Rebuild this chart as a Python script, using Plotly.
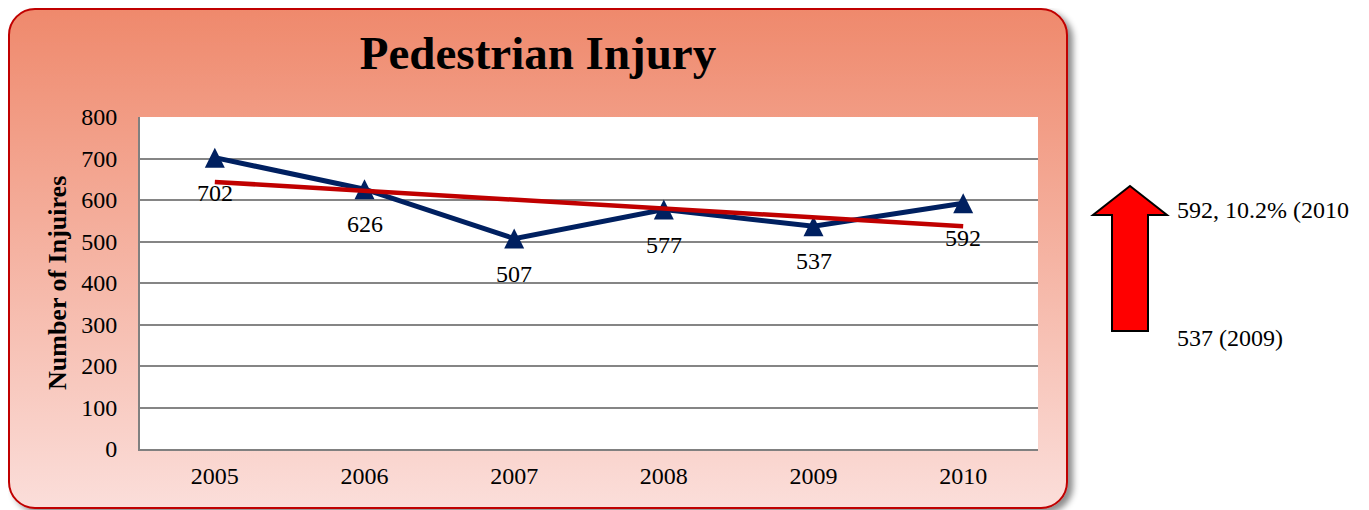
import base64
import numpy as np
import plotly.graph_objects as go

# ---------------- data ----------------
years = ["2005", "2006", "2007", "2008", "2009", "2010"]
injuries = [702, 626, 507, 577, 537, 592]
y_tick_vals = [0, 100, 200, 300, 400, 500, 600, 700, 800]
chart_title = "Pedestrian Injury"
y_axis_title = "Number of Injuires"
note_top = "592, 10.2% (2010"
note_bottom = "537 (2009)"

# ---------------- geometry (figure pixels; page body adds 8px) ----------------
W, H = 1369, 510
L, R, T, B = 132, 1030, 109, 441
PW, PH = R - L, B - T


def px(xp):
    return (xp - L) / PW


def py(yp):
    return (B - yp) / PH


# linear trend line (least squares on the data)
idx = np.arange(len(injuries))
slope, intercept = np.polyfit(idx, injuries, 1)
trend = slope * idx + intercept

# background card as svg image (gradient, border, shadow, white plot area)
svg = f"""<svg xmlns="http://www.w3.org/2000/svg" width="{W}" height="{H}" viewBox="0 0 {W} {H}" preserveAspectRatio="none">
<defs>
<linearGradient id="g" x1="0" y1="0" x2="0" y2="1">
<stop offset="0" stop-color="#EF896C"/>
<stop offset="1" stop-color="#FBDEDA"/>
</linearGradient>
<filter id="s" x="-5%" y="-5%" width="115%" height="125%">
<feDropShadow dx="5" dy="4" stdDeviation="3" flood-color="#000000" flood-opacity="0.45"/>
</filter>
</defs>
<rect x="1" y="1" width="1058" height="499" rx="26" ry="26" fill="url(#g)" stroke="#C00000" stroke-width="2" filter="url(#s)"/>
<rect x="{L}" y="{T}" width="{PW}" height="{PH}" fill="#FFFFFF"/>
</svg>"""
svg_uri = "data:image/svg+xml;base64," + base64.b64encode(svg.encode()).decode()

fig = go.Figure()

fig.add_trace(go.Scatter(
    x=years, y=injuries, mode="lines+markers",
    line=dict(color="#002060", width=5, backoff=0),
    marker=dict(symbol="arrow-down", angle=180, size=20, standoff=10, color="#002060"),
    showlegend=False, hoverinfo="skip",
))
fig.add_trace(go.Scatter(
    x=years, y=trend, mode="lines",
    line=dict(color="#C00000", width=4.5),
    showlegend=False, hoverinfo="skip",
))

serif = "Liberation Serif"

annotations = []
for i, v in enumerate(injuries):
    annotations.append(dict(x=i, y=v, xref="x", yref="y", text=str(v), showarrow=False,
                            yshift=-35, font=dict(family=serif, size=24, color="black")))

annotations.append(dict(x=0, y=0.5, xref="paper", yref="paper", text=f"<b>{y_axis_title}</b>",
                        textangle=-90, showarrow=False, xshift=-(L - 49), xanchor="center",
                        yanchor="middle", font=dict(family=serif, size=26, color="black")))
annotations.append(dict(x=px(1167), y=py(202), xref="paper", yref="paper", text=note_top,
                        showarrow=False, xanchor="left", yanchor="middle",
                        font=dict(family=serif, size=24, color="black")))
annotations.append(dict(x=px(1167), y=py(330), xref="paper", yref="paper", text=note_bottom,
                        showarrow=False, xanchor="left", yanchor="middle",
                        font=dict(family=serif, size=24, color="black")))

# red up arrow
arrow_pts = [(1122, 178), (1159, 207), (1140, 207), (1140, 323), (1104, 323), (1104, 207), (1085, 207)]
path = "M " + " L ".join(f"{px(a):.5f},{py(b):.5f}" for a, b in arrow_pts) + " Z"
shapes = [dict(type="path", xref="paper", yref="paper", path=path,
               fillcolor="#FF0000", line=dict(color="black", width=2))]

fig.update_layout(
    width=W, height=H,
    margin=dict(l=L, r=W - R, t=T, b=H - B, autoexpand=False),
    paper_bgcolor="white", plot_bgcolor="rgba(0,0,0,0)",
    title=dict(text=f"<b>{chart_title}</b>", x=530 / W, y=1 - 45 / H, xanchor="center",
               yanchor="middle", xref="container", yref="container",
               font=dict(family=serif, size=47, color="black")),
    images=[dict(source=svg_uri, xref="paper", yref="paper", x=-L / PW, y=B / PH,
                 sizex=W / PW, sizey=H / PH, xanchor="left", yanchor="top",
                 sizing="stretch", layer="below")],
    annotations=annotations,
    shapes=shapes,
    xaxis=dict(type="category", range=[-0.5, len(years) - 0.5], showgrid=False,
               showline=True, linecolor="#808080", linewidth=2, ticks="",
               tickfont=dict(family=serif, size=24, color="black"), ticklabelstandoff=4,
               fixedrange=True),
    yaxis=dict(range=[0, 800], tickvals=y_tick_vals, showgrid=True, gridcolor="#858585",
               gridwidth=1.5, zeroline=False, showline=True, linecolor="#808080", linewidth=2,
               ticks="", tickfont=dict(family=serif, size=24, color="black"),
               ticklabelstandoff=16, fixedrange=True),
)

fig.write_html("out.html")
